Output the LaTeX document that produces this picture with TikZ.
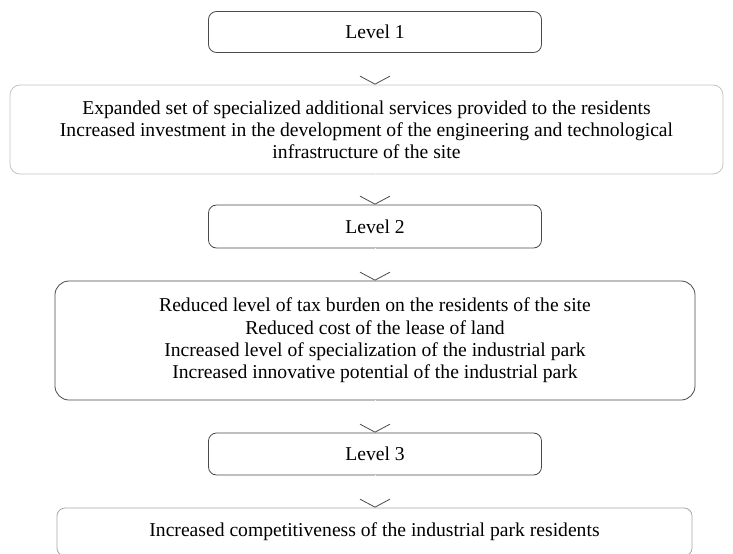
\documentclass[tikz,border=0pt]{standalone}
\usepackage{fontspec}
\setmainfont{Liberation Serif}
\usepackage{xcolor}
\definecolor{edge}{HTML}{4A4A4A}
\definecolor{faint}{HTML}{C4C4C4}
\definecolor{soft}{HTML}{A8A8A8}
\usepackage{tikz}
\usetikzlibrary{arrows.meta}

\begin{document}
\begin{tikzpicture}[x=1bp,y=-1bp,>={Straight Barb[length=8bp,width=30bp,color=edge]},every node/.style={font=\fontsize{19.7}{22.3}\selectfont}]
\useasboundingbox (0,0) rectangle (733,554);
\node[draw=edge,line width=0.8bp,rounded corners=8bp,minimum width=333bp,minimum height=41bp] (L1) at (375,32) {Level 1};
\node[draw=faint,line width=0.8bp,rounded corners=10bp,minimum width=713bp,minimum height=89bp,align=center] (B1) at (366.5,129.5) {Expanded set of specialized additional services provided to the residents\\Increased investment in the development of the engineering and technological\\infrastructure of the site};
\node[draw=edge,line width=0.8bp,rounded corners=8bp,minimum width=333bp,minimum height=43bp] (L2) at (375,226.5) {Level 2};
\node[draw=edge,line width=0.8bp,rounded corners=14bp,minimum width=640bp,minimum height=119bp,align=center] (B2) at (375,340.5) {Reduced level of tax burden on the residents of the site\\Reduced cost of the lease of land\\Increased level of specialization of the industrial park\\Increased innovative potential of the industrial park};
\node[draw=edge,line width=0.8bp,rounded corners=8bp,minimum width=333bp,minimum height=42bp] (L3) at (375,454) {Level 3};
\node[draw=soft,line width=0.8bp,rounded corners=8bp,minimum width=635bp,minimum height=48bp] (B3) at (374.5,532) {Increased competitiveness of the industrial park residents};
\draw[->,white,line width=0.8bp] (L1.south) -- (L1.south |- B1.north);
\draw[->,white,line width=0.8bp] (B1.south -| L2.north) -- (L2.north);
\draw[->,white,line width=0.8bp] (L2.south) -- (L2.south |- B2.north);
\draw[->,white,line width=0.8bp] (B2.south) -- (L3.north);
\draw[->,white,line width=0.8bp] (L3.south) -- (L3.south |- B3.north);
\end{tikzpicture}
\end{document}
